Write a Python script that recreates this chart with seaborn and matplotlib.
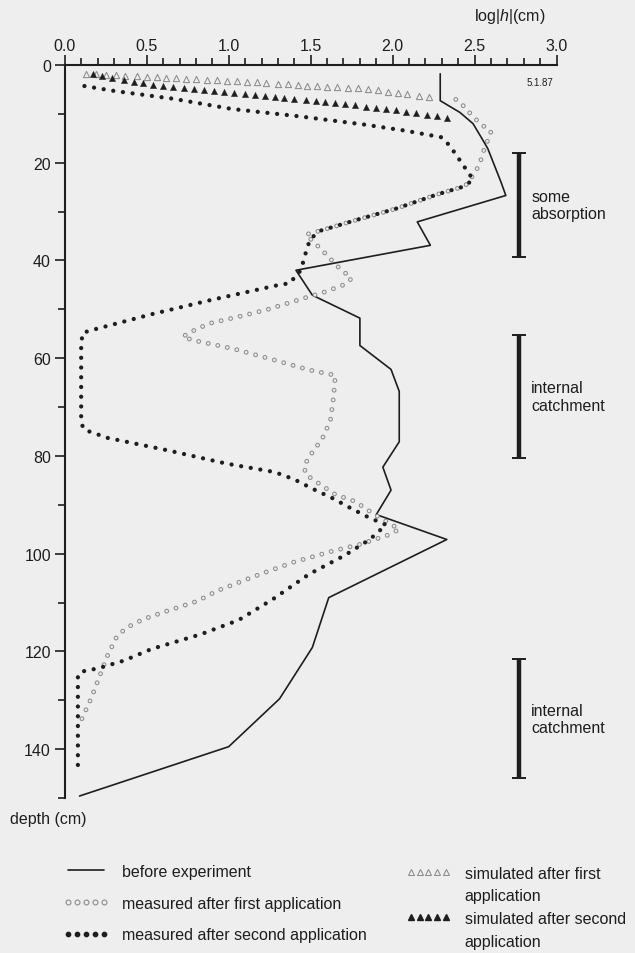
import numpy as np
import pandas as pd
import seaborn as sns
import matplotlib.pyplot as plt
from matplotlib.ticker import MultipleLocator, FormatStrFormatter
from matplotlib.lines import Line2D

# soil profile before the experiment (solid line)
before_logh = [2.29, 2.29, 2.41, 2.49, 2.54, 2.58, 2.62, 2.66, 2.69, 2.15, 2.23, 1.41,
               1.51, 1.80, 1.80, 1.99, 2.04, 2.04, 1.94, 1.99, 1.90, 2.33, 1.61, 1.51,
               1.31, 1.00, 0.09]
before_depth = [1.8, 7.3, 9.7, 12.0, 14.8, 17.1, 20.5, 23.9, 26.7, 32.1, 36.9, 42.0,
                47.1, 51.8, 57.4, 62.3, 66.8, 77.1, 82.3, 87.0, 92.0, 97.1, 109.0, 119.2,
                129.7, 139.5, 149.6]

# measured after first application (open circles)
meas1_logh = [2.36, 2.41, 2.50, 2.55, 2.60, 2.58, 2.55, 2.53, 2.47, 2.44, 2.27, 2.02,
              1.79, 1.56, 1.47, 1.57, 1.66, 1.75, 1.70, 1.59, 1.47, 1.23, 1.06, 0.88,
              0.77, 0.72, 0.78, 1.02, 1.25, 1.49, 1.59, 1.65, 1.64, 1.62, 1.57, 1.49,
              1.46, 1.47, 1.53, 1.65, 1.77, 1.88, 2.04, 1.98, 1.80, 1.63, 1.39, 1.16,
              0.93, 0.81, 0.60, 0.48, 0.38, 0.32, 0.26, 0.21, 0.16, 0.10]
meas1_depth = [6.5, 7.6, 10.9, 12.4, 13.6, 15.4, 18.0, 20.4, 23.6, 24.8, 26.5, 29.4,
               31.6, 33.9, 34.7, 37.9, 41.1, 43.7, 45.0, 46.4, 47.6, 50.1, 51.5, 52.9,
               54.6, 55.6, 56.3, 58.0, 60.1, 62.4, 63.1, 63.5, 67.8, 72.8, 76.5, 80.2,
               82.1, 83.8, 85.2, 87.9, 89.3, 91.8, 95.0, 96.1, 98.1, 99.5, 101.8, 104.6,
               107.6, 109.7, 112.0, 113.4, 115.1, 116.8, 120.9, 125.3, 129.7, 134.1]

# measured after second application (filled dots)
meas2_logh = [0.12, 0.30, 0.66, 1.02, 1.43, 1.83, 2.07, 2.30, 2.35, 2.42, 2.49, 2.44,
              2.27, 2.02, 1.79, 1.56, 1.50, 1.48, 1.44, 1.37, 1.32, 0.89, 0.53, 0.17,
              0.11, 0.10, 0.10, 0.11, 0.15, 0.26, 0.62, 0.99, 1.28, 1.40, 1.51, 1.63,
              1.75, 1.86, 1.96, 1.86, 1.71, 1.49, 1.27, 1.06, 0.83, 0.53, 0.36, 0.20,
              0.12, 0.08, 0.08]
meas2_depth = [4.3, 5.3, 6.9, 9.0, 10.5, 12.2, 13.4, 14.8, 16.6, 20.0, 23.4, 24.8,
               26.5, 29.4, 31.6, 33.9, 35.5, 37.2, 42.0, 44.7, 44.9, 48.1, 51.0, 54.2,
               54.8, 57.0, 72.0, 74.3, 75.0, 76.3, 78.8, 81.6, 83.3, 84.8, 86.7, 88.6,
               90.8, 92.7, 94.1, 97.1, 100.3, 104.2, 109.3, 113.6, 116.5, 119.5, 121.9, 123.5,
               124.0, 124.8, 144.0]

# simulated after first application (open triangles)
sim1_logh = [0.13, 0.19, 0.25, 0.31, 0.37, 0.44, 0.50, 0.56, 0.62, 0.68, 0.74, 0.80,
             0.87, 0.93, 0.99, 1.05, 1.11, 1.17, 1.23, 1.30, 1.36, 1.42, 1.48, 1.54,
             1.60, 1.66, 1.73, 1.79, 1.85, 1.91, 1.97, 2.03, 2.09, 2.16, 2.22]
sim1_depth = [1.8, 1.9, 2.0, 2.1, 2.2, 2.3, 2.4, 2.5, 2.6, 2.7, 2.8, 2.9,
              3.0, 3.1, 3.2, 3.3, 3.45, 3.55, 3.7, 3.85, 3.95, 4.1, 4.2, 4.3,
              4.45, 4.55, 4.7, 4.8, 5.0, 5.2, 5.5, 5.7, 6.0, 6.3, 6.6]

# simulated after second application (filled triangles)
sim2_logh = [0.17, 0.23, 0.29, 0.36, 0.42, 0.48, 0.54, 0.60, 0.66, 0.73, 0.79, 0.85,
             0.91, 0.97, 1.03, 1.10, 1.16, 1.22, 1.28, 1.34, 1.40, 1.47, 1.53, 1.59,
             1.65, 1.71, 1.77, 1.84, 1.90, 1.96, 2.02, 2.08, 2.14, 2.21, 2.27, 2.33]
sim2_depth = [1.9, 2.3, 2.7, 3.0, 3.4, 3.7, 4.0, 4.3, 4.6, 4.8, 5.0, 5.2,
              5.4, 5.6, 5.8, 6.0, 6.2, 6.4, 6.6, 6.8, 7.0, 7.2, 7.4, 7.6,
              7.8, 8.0, 8.2, 8.5, 8.7, 9.0, 9.3, 9.6, 9.9, 10.2, 10.5, 10.8]

# depth ranges marked on the right
zone_top = [18.0, 55.3, 121.6]
zone_bottom = [39.2, 80.4, 146.0]
zone_labels = ['some\nabsorption', 'internal\ncatchment', 'internal\ncatchment']

sns.set_theme(style='ticks')
plt.rcParams['font.family'] = ['Liberation Sans', 'DejaVu Sans']
plt.rcParams['lines.scale_dashes'] = False
plt.rcParams['mathtext.fontset'] = 'custom'
plt.rcParams['mathtext.rm'] = 'Liberation Sans'
plt.rcParams['mathtext.it'] = 'Liberation Sans:italic'

BG = '#eeeeee'
INK = '#1e1e1e'
GREY = '#8c8c8c'
FS = 11.5

fig = plt.figure(figsize=(6.35, 9.54), dpi=100, facecolor=BG)
ax = fig.add_axes([0.102, 0.1625, 0.7746, 0.7683])
ax.set_facecolor(BG)

before = pd.DataFrame({'logh': before_logh, 'depth': before_depth})
meas1 = pd.DataFrame({'logh': meas1_logh, 'depth': meas1_depth})
meas2 = pd.DataFrame({'logh': meas2_logh, 'depth': meas2_depth})
sim1 = pd.DataFrame({'logh': sim1_logh, 'depth': sim1_depth})
sim2 = pd.DataFrame({'logh': sim2_logh, 'depth': sim2_depth})

sns.lineplot(data=before, x='logh', y='depth', sort=False, estimator=None,
             color=INK, linewidth=1.2, ax=ax)

# open circles: grey dots with background dots on top -> rings
for lw, c in [(3.5, GREY), (2.0, BG)]:
    sns.lineplot(data=meas1, x='logh', y='depth', sort=False, estimator=None,
                 color=c, linewidth=lw, linestyle=(3.5, (0.01, 7.0)),
                 dash_capstyle='round', ax=ax)

sns.lineplot(data=meas2, x='logh', y='depth', sort=False, estimator=None,
             color=INK, linewidth=3.1, linestyle=(0, (0.01, 7.0)),
             dash_capstyle='round', ax=ax)

sns.scatterplot(data=sim1, x='logh', y='depth', marker='^', s=20,
                color=BG, edgecolor=GREY, linewidth=0.75, ax=ax)
sns.scatterplot(data=sim2, x='logh', y='depth', marker='^', s=20,
                color=INK, edgecolor=INK, linewidth=0.3, ax=ax)

centers = [(a + b) / 2 for a, b in zip(zone_top, zone_bottom)]
halves = [(b - a) / 2 for a, b in zip(zone_top, zone_bottom)]
ax.errorbar([2.77] * 3, centers, yerr=halves, fmt='none', ecolor=INK,
            elinewidth=3.2, capsize=5, capthick=1.4, clip_on=False)
for c, lab in zip(centers, zone_labels):
    ax.text(2.845, c, lab, ha='left', va='center', fontsize=FS,
            linespacing=1.2, color=INK)

ax.text(2.90, 3.5, '5.1.87', ha='center', va='center', fontsize=7, color=INK)
ax.text(0.905, 1.068, r'log$|h|$(cm)', transform=ax.transAxes, ha='center',
        va='center', fontsize=FS, color=INK)
fig.text(0.016, 1 - 820 / 954, 'depth (cm)', ha='left', va='center',
         fontsize=FS, color=INK)

ax.set_xlim(0, 3)
ax.set_ylim(150, 0)
ax.set_xlabel('')
ax.set_ylabel('')
ax.xaxis.set_ticks_position('top')
ax.xaxis.set_major_locator(MultipleLocator(0.5))
ax.xaxis.set_minor_locator(MultipleLocator(0.1))
ax.xaxis.set_major_formatter(FormatStrFormatter('%.1f'))
ax.yaxis.set_major_locator(MultipleLocator(20))
ax.yaxis.set_minor_locator(MultipleLocator(10))
ax.tick_params(axis='x', which='major', direction='out', length=7, width=1.2,
               labelsize=FS, pad=2, colors=INK)
ax.tick_params(axis='x', which='minor', direction='out', length=5, width=1.2, colors=INK)
ax.tick_params(axis='y', which='major', direction='out', length=7, width=1.2,
               labelsize=FS, pad=3, colors=INK)
ax.tick_params(axis='y', which='minor', direction='out', length=5, width=1.2, colors=INK)
ax.spines['right'].set_visible(False)
ax.spines['bottom'].set_visible(False)
for s in ['top', 'left']:
    ax.spines[s].set_linewidth(1.5)
    ax.spines[s].set_color(INK)

# legend, two blocks
h_line = Line2D([], [], color=INK, lw=1.2)
h_open = Line2D([], [], ls='none', marker='o', ms=3.5, mfc=BG, mec=GREY, mew=0.8)
h_dot = Line2D([], [], ls='none', marker='o', ms=3.1, color=INK)
h_tri_o = Line2D([], [], ls='none', marker='^', ms=4.2, mfc=BG, mec=GREY, mew=0.75)
h_tri_f = Line2D([], [], ls='none', marker='^', ms=4.2, color=INK)
blank = Line2D([], [], ls='none')

fig.legend([h_line, h_open, h_dot],
           ['before experiment', 'measured after first application',
            'measured after second application'],
           loc='upper left', bbox_to_anchor=(0.099, 0.0935), frameon=False,
           fontsize=FS, handlelength=2.9, handletextpad=0.8, labelspacing=1.05,
           numpoints=5, borderpad=0, borderaxespad=0, labelcolor=INK)
fig.legend([h_tri_o, blank, h_tri_f, blank],
           ['simulated after first', 'application', 'simulated after second', 'application'],
           loc='upper left', bbox_to_anchor=(0.640, 0.0915), frameon=False,
           fontsize=FS, handlelength=2.75, handletextpad=0.9, labelspacing=0.48,
           numpoints=5, borderpad=0, borderaxespad=0, labelcolor=INK)

fig.savefig('out.png', dpi=100, facecolor=BG)
